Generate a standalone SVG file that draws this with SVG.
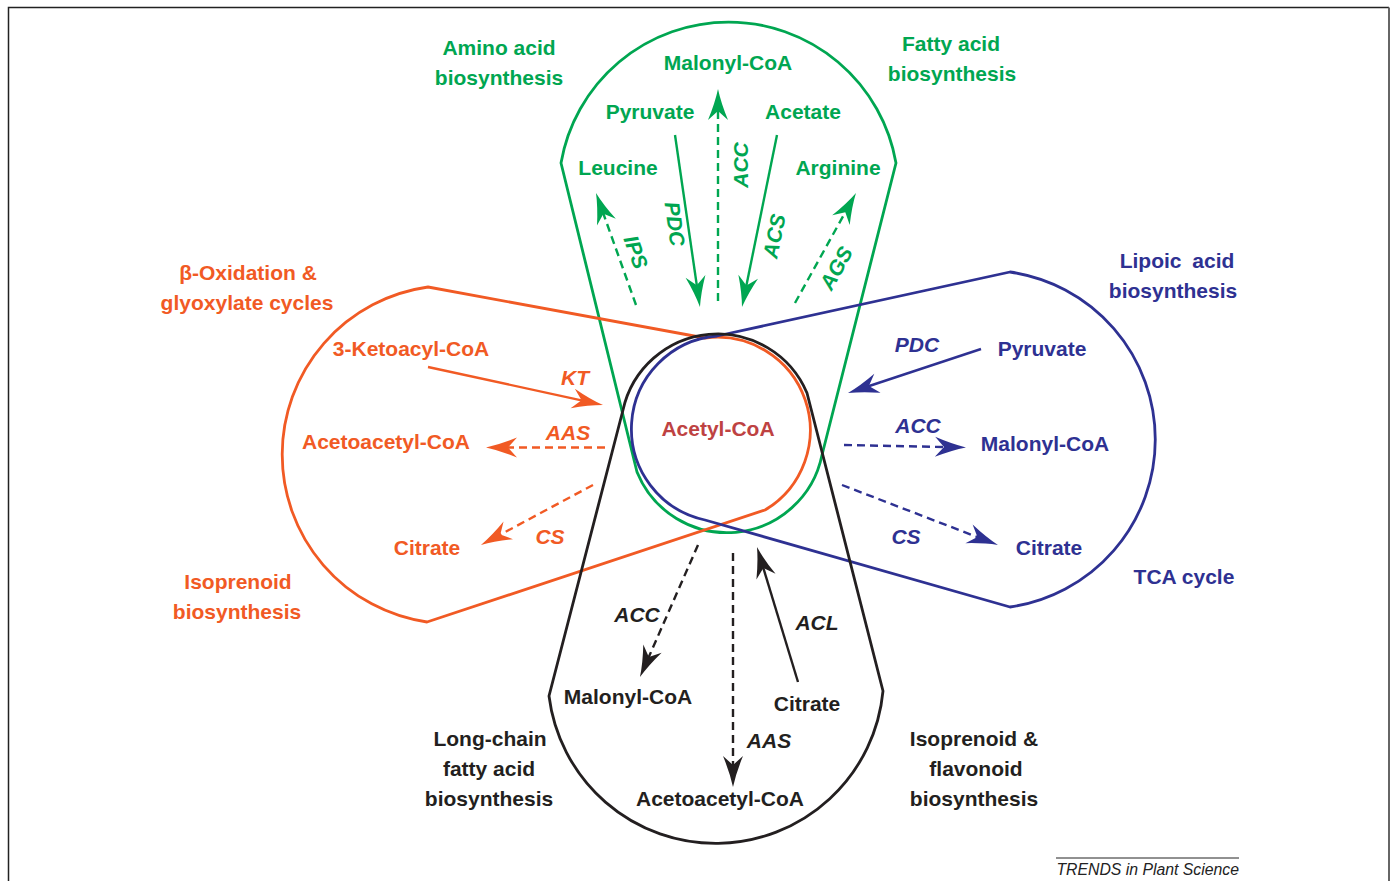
<svg xmlns="http://www.w3.org/2000/svg" width="1393" height="881" viewBox="0 0 1393 881">
<style>
text{font-family:"Liberation Sans",Arial,sans-serif;font-weight:bold;font-size:21px;text-anchor:middle;dominant-baseline:central}
.lab{font-style:italic}
.g{fill:#00A651}.o{fill:#F15A24}.b{fill:#2E3192}.k{fill:#231F20}
.shape{fill:none;stroke-width:2.8;stroke-linejoin:round}
.ar{fill:none;stroke-width:2.4}
.d{stroke-dasharray:8 5}
.sg{stroke:#00A651}.so{stroke:#F15A24}.sb{stroke:#2E3192}.sk{stroke:#231F20}
</style>
<defs>
<path id="head" d="M8,0 Q-6,-3 -23,-10 L-14,0 L-23,10 Q-6,3 8,0 Z"/>
<marker id="mg" markerUnits="userSpaceOnUse" orient="auto" markerWidth="36" markerHeight="24" viewBox="-26 -12 36 24" refX="0" refY="0"><use href="#head" fill="#00A651"/></marker>
<marker id="mo" markerUnits="userSpaceOnUse" orient="auto" markerWidth="36" markerHeight="24" viewBox="-26 -12 36 24" refX="0" refY="0"><use href="#head" fill="#F15A24"/></marker>
<marker id="mb" markerUnits="userSpaceOnUse" orient="auto" markerWidth="36" markerHeight="24" viewBox="-26 -12 36 24" refX="0" refY="0"><use href="#head" fill="#2E3192"/></marker>
<marker id="mk" markerUnits="userSpaceOnUse" orient="auto" markerWidth="36" markerHeight="24" viewBox="-26 -12 36 24" refX="0" refY="0"><use href="#head" fill="#231F20"/></marker>
</defs>
<rect width="1393" height="881" fill="#fff"/>
<path d="M8.5,881 V7.5 H1389" fill="none" stroke="#222" stroke-width="1.5"/>
<path d="M1389,7.5 V881" fill="none" stroke="#666" stroke-width="2"/>

<g id="lobe-green"><path class="shape sg" d="M561,163 L637,472 A97,97 0 0 0 822,455 L896,163 A170,170 0 0 0 561,163 Z"/></g>
<g id="lobe-orange"><path class="shape so" d="M428,287 L705,338 A93,93 0 0 1 765,510 L427,622 A169.2,169.2 0 0 1 428,287 Z"/></g>
<g id="lobe-blue"><path class="shape sb" d="M1010,272 L717,336 A93.2,93.2 0 0 0 705,520 L1010,607 A169.2,169.2 0 0 0 1010,272 Z"/></g>
<g id="lobe-black"><path class="shape sk" d="M549,696 L623,410 A97,97 0 0 1 807,393 L883,691 A168,168 0 0 1 549,696 Z"/></g>

<g id="connectors">
<line class="ar sg" x1="675" y1="135" x2="698.8" y2="299.1" marker-end="url(#mg)"/>
<line class="ar sg d" x1="718" y1="301" x2="718" y2="97" marker-end="url(#mg)"/>
<line class="ar sg" x1="777" y1="135" x2="743.6" y2="299.2" marker-end="url(#mg)"/>
<line class="ar sg d" x1="636" y1="305" x2="598.7" y2="200.5" marker-end="url(#mg)"/>
<line class="ar sg d" x1="795" y1="303" x2="852.1" y2="200" marker-end="url(#mg)"/>
<line class="ar so" x1="428" y1="367" x2="595.2" y2="403.3" marker-end="url(#mo)"/>
<line class="ar so d" x1="605" y1="447.5" x2="494" y2="447.5" marker-end="url(#mo)"/>
<line class="ar so d" x1="593" y1="485" x2="488" y2="541.2" marker-end="url(#mo)"/>
<line class="ar sb" x1="981" y1="349" x2="855.6" y2="390.5" marker-end="url(#mb)"/>
<line class="ar sb d" x1="844" y1="445" x2="958" y2="447.3" marker-end="url(#mb)"/>
<line class="ar sb d" x1="842" y1="485" x2="990.5" y2="542.1" marker-end="url(#mb)"/>
<line class="ar sk d" x1="698" y1="545" x2="643.2" y2="669.7" marker-end="url(#mk)"/>
<line class="ar sk d" x1="733" y1="553" x2="733" y2="779" marker-end="url(#mk)"/>
<line class="ar sk" x1="798" y1="682" x2="759.3" y2="554.7" marker-end="url(#mk)"/>
</g>

<g id="center"><text x="718" y="428" fill="#BE4242">Acetyl-CoA</text></g>

<g id="green-nodes">
<text class="g" x="499" y="47">Amino acid</text>
<text class="g" x="499" y="77">biosynthesis</text>
<text class="g" x="951" y="43">Fatty acid</text>
<text class="g" x="952" y="73">biosynthesis</text>
<text class="g" x="728" y="62">Malonyl-CoA</text>
<text class="g" x="650" y="111">Pyruvate</text>
<text class="g" x="803" y="111">Acetate</text>
<text class="g" x="618" y="167">Leucine</text>
<text class="g" x="838" y="167">Arginine</text>
<text class="g lab" transform="translate(675,224) rotate(82)">PDC</text>
<text class="g lab" transform="translate(740,165) rotate(-90)">ACC</text>
<text class="g lab" transform="translate(774,236) rotate(-78.5)">ACS</text>
<text class="g lab" transform="translate(636,252) rotate(70)">IPS</text>
<text class="g lab" transform="translate(836,268) rotate(-61)">AGS</text>
</g>

<g id="orange-nodes">
<text class="o" x="248" y="272">β-Oxidation &amp;</text>
<text class="o" x="247" y="302">glyoxylate cycles</text>
<text class="o" x="411" y="348">3-Ketoacyl-CoA</text>
<text class="o" x="386" y="441">Acetoacetyl-CoA</text>
<text class="o" x="427" y="547">Citrate</text>
<text class="o" x="238" y="581">Isoprenoid</text>
<text class="o" x="237" y="611">biosynthesis</text>
<text class="o lab" x="575" y="377">KT</text>
<text class="o lab" x="568" y="432">AAS</text>
<text class="o lab" x="550" y="536">CS</text>
</g>

<g id="blue-nodes">
<text class="b" x="1177" y="260" word-spacing="5">Lipoic acid</text>
<text class="b" x="1173" y="290">biosynthesis</text>
<text class="b" x="1042" y="348">Pyruvate</text>
<text class="b" x="1045" y="443">Malonyl-CoA</text>
<text class="b" x="1049" y="547">Citrate</text>
<text class="b" x="1184" y="576">TCA cycle</text>
<text class="b lab" x="917" y="344">PDC</text>
<text class="b lab" x="918" y="425">ACC</text>
<text class="b lab" x="906" y="536">CS</text>
</g>

<g id="black-nodes">
<text class="k" x="628" y="696">Malonyl-CoA</text>
<text class="k" x="807" y="703">Citrate</text>
<text class="k" x="720" y="798">Acetoacetyl-CoA</text>
<text class="k" x="490" y="738">Long-chain</text>
<text class="k" x="489" y="768">fatty acid</text>
<text class="k" x="489" y="798">biosynthesis</text>
<text class="k" x="974" y="738">Isoprenoid &amp;</text>
<text class="k" x="976" y="768">flavonoid</text>
<text class="k" x="974" y="798">biosynthesis</text>
<text class="k lab" x="637" y="614">ACC</text>
<text class="k lab" x="817" y="622">ACL</text>
<text class="k lab" x="769" y="740">AAS</text>
</g>

<g id="footer">
<line x1="1056" y1="858" x2="1239" y2="858" stroke="#222" stroke-width="1"/>
<text x="1239" y="869" style="font-weight:normal;font-style:italic;font-size:15.8px;text-anchor:end" fill="#222">TRENDS in Plant Science</text>
</g>
</svg>
